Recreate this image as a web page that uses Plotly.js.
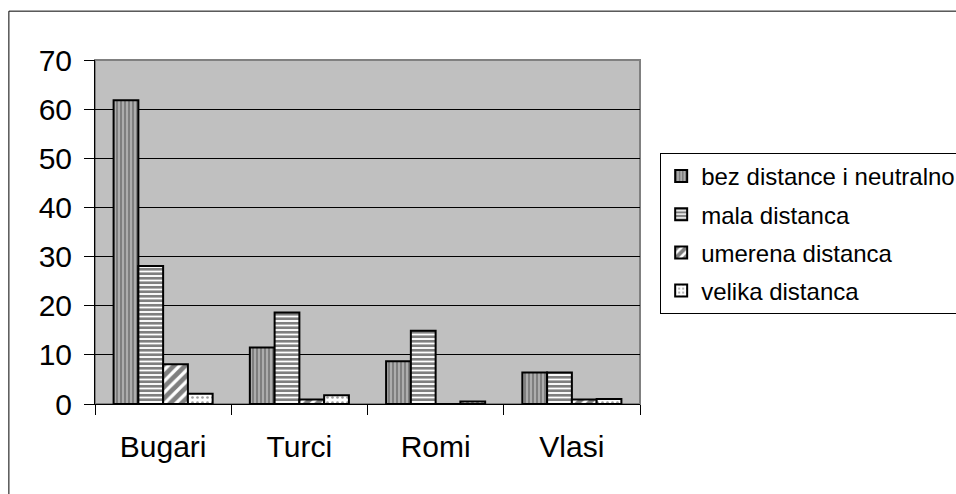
<!DOCTYPE html>
<html>
<head>
<meta charset="utf-8">
<script src="https://cdn.plot.ly/plotly-3.0.1.min.js"></script>
<style>html,body{margin:0;padding:0;background:#fff;}#chart{width:956px;height:494px;}</style>
</head>
<body>
<div id="chart"></div>
<script>
const categories = ["Bugari", "Turci", "Romi", "Vlasi"];
const seriesNames = ["bez distance i neutralno", "mala distanca", "umerena distanca", "velika distanca"];
const bezDistance = [61.8, 11.5, 8.7, 6.4];
const malaDistanca = [28.1, 18.6, 14.9, 6.4];
const umerenaDistanca = [8.1, 0.9, 0, 0.9];
const velikaDistanca = [2.1, 1.8, 0.5, 1.0];
const yTicks = [0, 10, 20, 30, 40, 50, 60, 70];

const values = [bezDistance, malaDistanca, umerenaDistanca, velikaDistanca];
const patterns = [
  {shape: "|", bgcolor: "white", fgcolor: "black", size: 4, solidity: 0.82, fillmode: "overlay"},
  {shape: "-", bgcolor: "white", fgcolor: "black", size: 4.5, solidity: 0.6, fillmode: "overlay"},
  {shape: "/", bgcolor: "white", fgcolor: "black", size: 8, solidity: 0.6, fillmode: "overlay"},
  {shape: ".", bgcolor: "white", fgcolor: "#404040", size: 5, solidity: 0.22, fillmode: "overlay"}
];

const data = seriesNames.map((name, i) => ({
  type: "bar",
  name: name,
  legendgroup: "g" + i,
  x: categories,
  y: values[i],
  marker: {color: "white", pattern: patterns[i], line: {color: "black", width: 2}},
  hoverinfo: "x+y+name"
}));

const font = "Liberation Sans, Arial, sans-serif";
const layout = {
  width: 956, height: 494,
  margin: {l: 95, r: 316, t: 60, b: 90, autoexpand: false},
  paper_bgcolor: "white",
  plot_bgcolor: "#C0C0C0",
  barmode: "group",
  bargap: 0.273,
  bargroupgap: 0,
  font: {family: font, color: "black"},
  showlegend: true,
  legend: {
    x: 1.037, y: 0.73, xanchor: "left", yanchor: "top",
    bgcolor: "white", bordercolor: "black", borderwidth: 1,
    font: {family: font, size: 24, color: "black"},
    tracegroupgap: 4, itemwidth: 30
  },
  xaxis: {
    type: "category",
    showgrid: false,
    showline: true, linecolor: "black", linewidth: 1,
    ticks: "outside", ticklen: 10, tickcolor: "black", tickson: "boundaries",
    tickfont: {family: font, size: 30, color: "black"},
    ticklabelstandoff: 16,
    zeroline: false
  },
  yaxis: {
    range: [0, 70],
    tickvals: yTicks,
    showgrid: true, gridcolor: "black", gridwidth: 1,
    showline: true, linecolor: "black", linewidth: 1,
    ticks: "outside", ticklen: 10, tickcolor: "black",
    tickfont: {family: font, size: 30, color: "black"},
    ticklabelstandoff: 6,
    zeroline: false
  },
  shapes: [
    {type: "rect", xref: "paper", yref: "paper", x0: 0, x1: 1, y0: 0, y1: 1,
     line: {color: "#808080", width: 2}, layer: "below"},
    {type: "rect", xref: "paper", yref: "paper", x0: -0.158, x1: 1.9, y0: -0.3, y1: 1.142,
     line: {color: "black", width: 1}, fillcolor: "rgba(0,0,0,0)"}
  ]
};

Plotly.newPlot("chart", data, layout, {displayModeBar: false, staticPlot: true});
</script>
</body>
</html>
